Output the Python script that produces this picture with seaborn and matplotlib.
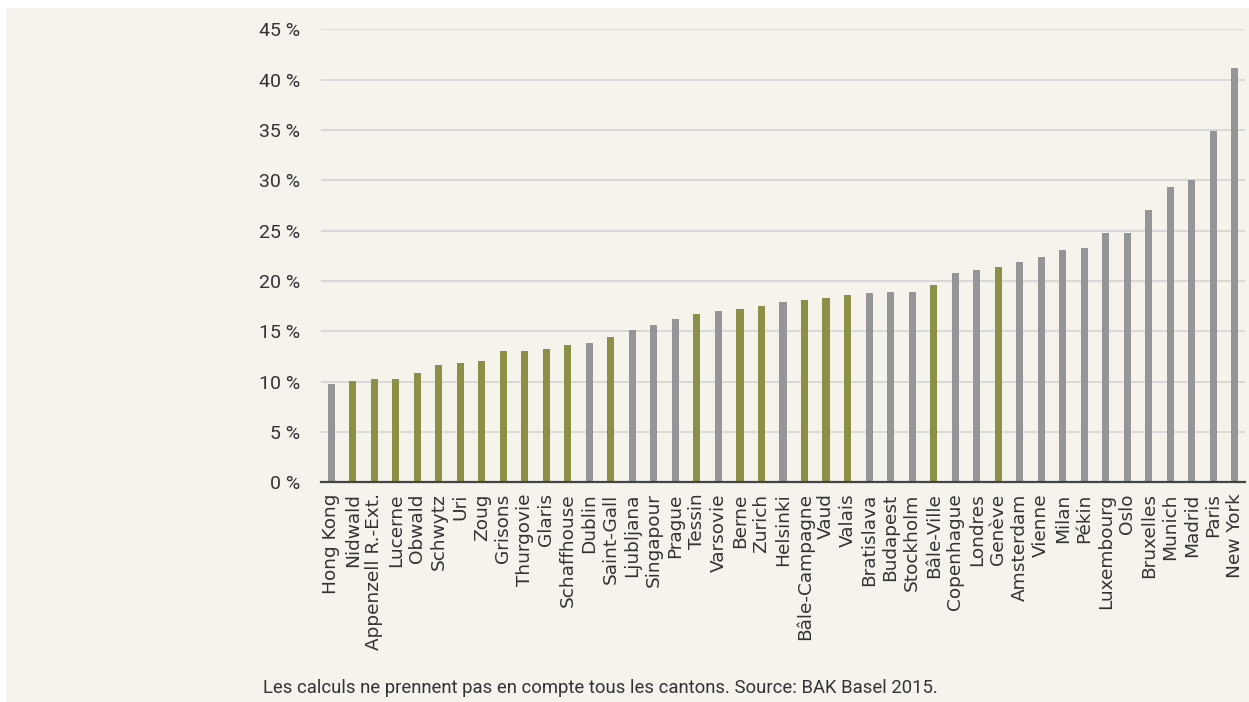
import pandas as pd
import matplotlib
matplotlib.use("Agg")
import matplotlib.pyplot as plt
import seaborn as sns
from matplotlib.patches import Rectangle

# data (percent)
cities = ["Hong Kong", "Nidwald", "Appenzell R.-Ext.", "Lucerne", "Obwald", "Schwytz",
          "Uri", "Zoug", "Grisons", "Thurgovie", "Glaris", "Schaffhouse", "Dublin",
          "Saint-Gall", "Ljubljana", "Singapour", "Prague", "Tessin", "Varsovie", "Berne",
          "Zurich", "Helsinki", "Bâle-Campagne", "Vaud", "Valais", "Bratislava", "Budapest",
          "Stockholm", "Bâle-Ville", "Copenhague", "Londres", "Genève", "Amsterdam",
          "Vienne", "Milan", "Pékin", "Luxembourg", "Oslo", "Bruxelles", "Munich",
          "Madrid", "Paris", "New York"]
values = [9.8, 10.1, 10.3, 10.3, 10.9, 11.7, 11.9, 12.0, 13.0, 13.0, 13.2, 13.6, 13.8,
          14.4, 15.1, 15.6, 16.2, 16.7, 17.0, 17.2, 17.5, 17.9, 18.1, 18.3, 18.6, 18.8,
          18.9, 18.9, 19.6, 20.8, 21.1, 21.4, 21.9, 22.4, 23.1, 23.3, 24.8, 24.8, 27.0,
          29.3, 30.0, 34.9, 41.2]
cantons = ["Nidwald", "Appenzell R.-Ext.", "Lucerne", "Obwald", "Schwytz", "Uri", "Zoug",
           "Grisons", "Thurgovie", "Glaris", "Schaffhouse", "Saint-Gall", "Tessin", "Berne",
           "Zurich", "Bâle-Campagne", "Vaud", "Valais", "Bâle-Ville", "Genève"]
y_ticks = [0, 5, 10, 15, 20, 25, 30, 35, 40, 45]

df = pd.DataFrame({"ville": cities, "valeur": values})
df["type"] = ["canton" if c in cantons else "ville" for c in df["ville"]]

bg = "#f5f3ec"
palette = {"canton": "#979b3a", "ville": "#949599"}
font = ["Roboto", "DejaVu Sans"]

fig = plt.figure(figsize=(12.49, 7.02), dpi=100, facecolor="white")
fig.patches.append(Rectangle((6 / 1249, 0), 1, 1 - 8 / 702, transform=fig.transFigure,
                             facecolor=bg, edgecolor="none", zorder=-10))

ax = fig.add_axes([321 / 1249, 1 - 482.3 / 702, (1245 - 321) / 1249, 453 / 702])
ax.set_facecolor("none")

sns.barplot(data=df, x="ville", y="valeur", hue="type", palette=palette, dodge=False,
            width=0.33, legend=False, ax=ax, zorder=3)

ax.set_ylim(0, 45)
ax.set_xlim(-0.47, len(cities) - 0.53)
ax.set_yticks(y_ticks)
ax.set_yticklabels([f"{t} %" for t in y_ticks], fontsize=14, color="#333333", family=font)
ax.set_xticks(range(len(cities)))
ax.set_xticklabels(cities, rotation=90, fontsize=13.3, color="#333333", family="DejaVu Sans")
ax.tick_params(axis="both", length=0)
ax.tick_params(axis="y", pad=15)
ax.tick_params(axis="x", pad=8)

ax.grid(axis="y", color="#d3d3d3", linewidth=1.2, zorder=0)
ax.set_axisbelow(True)
for s in ["top", "right", "left"]:
    ax.spines[s].set_visible(False)
ax.spines["bottom"].set_color("#444444")
ax.spines["bottom"].set_linewidth(1.6)
ax.spines["bottom"].set_zorder(4)
ax.set_xlabel("")
ax.set_ylabel("")

fig.text(263 / 1249, 1 - 688 / 702,
         "Les calculs ne prennent pas en compte tous les cantons. Source: BAK Basel 2015.",
         fontsize=13.3, color="#333333", family=font, va="center", ha="left")

fig.savefig("out.png", dpi=100, facecolor="white")
